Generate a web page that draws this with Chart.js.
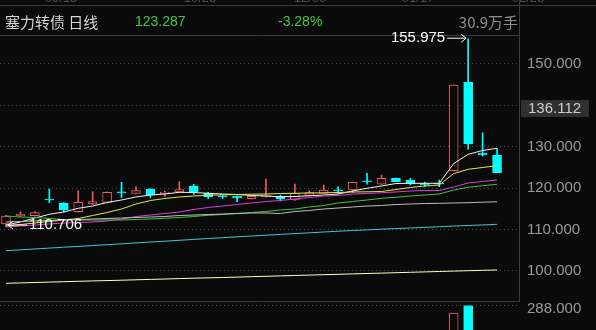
<!DOCTYPE html>
<html>
<head>
<meta charset="utf-8">
<script src="https://cdn.jsdelivr.net/npm/chart.js@4.4.0/dist/chart.umd.min.js"></script>
<style>
html, body { margin: 0; padding: 0; background: #0a0a0a; overflow: hidden; }
#wrap { position: relative; width: 596px; height: 330px; }
</style>
</head>
<body>
<div id="wrap"><canvas id="kline" width="596" height="330"></canvas></div>
<script>
// daily candles, oldest first
const opens  = [111.33, 113.25, 113.33, 117.2, 116.39, 114.29, 116.14, 116.55, 118.9, 118.72,
                119.76, 118.63, 119.04, 120.48, 118.72, 118.14, 118.07, 117.42, 117.9, 118.0,
                117.1, 118.19, 118.72, 119.4, 119.52, 121.55, 120.9, 122.34, 121.93, 120.85,
                121.0, 124.17, 145.47, 128.36, 127.95];
const highs  = [113.4, 114.22, 114.3, 119.76, 116.5, 119.35, 119.11, 119.1, 121.37, 120.31,
                119.8, 119.28, 121.52, 120.9, 118.96, 118.2, 118.1, 118.05, 122.17, 118.31,
                120.96, 119.35, 120.72, 120.3, 121.4, 123.54, 123.13, 122.4, 122.34, 121.45,
                121.93, 144.82, 155.975, 133.3, 129.57];
const lows   = [110.706, 113.1, 113.2, 116.46, 114.22, 114.2, 116.0, 116.4, 117.66, 118.6,
                117.66, 118.0, 118.95, 118.48, 117.42, 117.42, 116.7, 117.35, 117.8, 116.87,
                117.0, 118.1, 118.65, 118.72, 118.96, 120.9, 120.85, 121.5, 120.72, 120.3,
                120.3, 124.1, 129.33, 127.7, 123.7];
const closes = [113.25, 113.73, 114.05, 117.1, 114.7, 116.55, 116.7, 118.96, 118.85, 119.35,
                118.31, 119.04, 119.6, 119.04, 117.9, 117.83, 117.59, 118.0, 118.31, 117.35,
                118.72, 118.87, 119.52, 119.3, 121.37, 121.5, 122.34, 121.52, 120.96, 120.8,
                120.96, 144.82, 130.6, 127.95, 123.7];
const volumes = [42, 38, 35, 60, 48, 55, 40, 52, 46, 39,
                 44, 30, 41, 45, 36, 28, 33, 27, 49, 31,
                 43, 29, 37, 34, 50, 58, 47, 40, 36, 32,
                 30, 265, 288, 150, 110];

// moving averages
const ma5   = [111.08, 111.81, 112.77, 113.66, 114.22, 115.11, 115.66, 116.51, 117.11, 117.83,
               118.31, 118.55, 118.96, 118.92, 118.72, 118.55, 118.43, 118.19, 118.07, 117.90,
               117.95, 118.14, 118.31, 118.55, 119.28, 119.93, 120.48, 121.08, 121.13, 121.13,
               121.13, 125.90, 128.12, 129.04, 129.57];
const ma10  = [110.84, 111.20, 111.57, 111.93, 112.29, 112.65, 113.37, 114.10, 114.94, 116.14,
               116.99, 117.47, 117.83, 118.07, 118.24, 118.36, 118.43, 118.51, 118.55, 118.67,
               118.72, 118.80, 118.84, 118.92, 119.04, 119.08, 119.16, 119.64, 120.12, 120.48,
               120.72, 123.49, 124.51, 124.94, 125.37];
const ma20  = [110.60, 110.84, 111.08, 111.33, 111.57, 111.69, 111.81, 112.05, 112.53, 113.13,
               113.49, 113.86, 114.22, 114.82, 115.30, 115.66, 116.02, 116.39, 116.75, 116.99,
               117.35, 117.71, 118.07, 118.19, 118.55, 118.67, 118.87, 119.04, 119.28, 119.40,
               119.40, 120.24, 121.20, 121.57, 121.93];
const ma30  = [113.25, 113.01, 112.89, 112.65, 112.41, 112.29, 112.29, 112.29, 112.29, 112.41,
               112.53, 112.70, 112.89, 113.13, 113.42, 113.61, 113.86, 114.10, 114.34, 114.70,
               114.94, 115.42, 115.78, 116.39, 116.75, 117.11, 117.52, 117.76, 118.07, 118.31,
               118.55, 119.52, 120.17, 120.55, 120.89];
const ma60  = [111.81, 111.93, 112.05, 112.17, 112.29, 112.41, 112.53, 112.65, 112.77, 112.89,
               113.01, 113.13, 113.37, 113.49, 113.61, 113.73, 113.86, 113.98, 113.98, 113.86,
               114.34, 114.58, 114.94, 115.18, 115.42, 115.66, 115.78, 116.02, 116.14, 116.27,
               116.31, 116.39, 116.46, 116.58, 116.67];
const ma120 = [104.89, 105.10, 105.31, 105.52, 105.73, 105.93, 106.13, 106.34, 106.55, 106.77,
               106.98, 107.18, 107.40, 107.61, 107.83, 108.02, 108.24, 108.43, 108.63, 108.82,
               109.01, 109.20, 109.40, 109.59, 109.76, 109.90, 110.07, 110.22, 110.36, 110.51,
               110.67, 110.82, 110.96, 111.11, 111.25];
const ma250 = [97.04, 97.13, 97.23, 97.33, 97.42, 97.52, 97.61, 97.69, 97.78, 97.88,
               97.98, 98.07, 98.17, 98.27, 98.34, 98.43, 98.53, 98.63, 98.72, 98.82,
               98.92, 99.01, 99.11, 99.20, 99.30, 99.40, 99.49, 99.59, 99.69, 99.78,
               99.88, 99.98, 100.07, 100.17, 100.24];

const priceTicks = [100, 110, 120, 130, 140, 150];
const volTick = 288;
const title = '塞力转债 日线';
const lastPrice = '123.287';
const changePct = '-3.28%';
const volText = '30.9万手';
const markPrice = 136.112;
const topDates = ['09/13', '10/25', '12/06', '01/17', '02/28'];

const BG = '#0a0a0a';
const RED = '#ec5c5c';
const CYAN = '#00ffff';
const NUM_FONT = '"Liberation Sans", Arial, sans-serif';

const isUp = i => closes[i] >= opens[i];
const idx = opens.map((_, i) => i);

function maLine(data, color) {
    return {
        type: 'line',
        data: data.map((v, i) => ({ x: i, y: v })),
        borderColor: color,
        borderWidth: 1,
        pointRadius: 0,
        tension: 0,
        order: 0
    };
}

// headers, separators and price marks
const decor = {
    id: 'decor',
    afterDraw(chart) {
        const ctx = chart.ctx;
        const xs = chart.scales.x, ys = chart.scales.y, yv = chart.scales.yv;
        ctx.save();

        // clipped date labels of the panel above
        ctx.fillStyle = '#505050';
        ctx.font = '13px ' + NUM_FONT;
        ctx.textAlign = 'center';
        ctx.textBaseline = 'alphabetic';
        [61, 200, 310, 418, 528].forEach((x, k) => ctx.fillText(topDates[k], x, 2));

        // frame lines
        ctx.strokeStyle = '#3c3c3c';
        ctx.lineWidth = 1;
        ctx.beginPath();
        ctx.moveTo(0, 5.5); ctx.lineTo(596, 5.5);
        ctx.moveTo(0, 35.5); ctx.lineTo(519, 35.5);
        ctx.moveTo(0, 301.5); ctx.lineTo(519, 301.5);
        ctx.moveTo(519.5, 0); ctx.lineTo(519.5, 302);
        ctx.stroke();

        // header
        ctx.textBaseline = 'middle';
        ctx.textAlign = 'left';
        ctx.fillStyle = '#d6d6d6';
        ctx.font = '15px "Noto Sans CJK SC", sans-serif';
        ctx.fillText(title, 5, 22);
        ctx.fillStyle = '#48c848';
        ctx.font = '14px ' + NUM_FONT;
        ctx.fillText(lastPrice, 135, 22);
        ctx.fillText(changePct, 278, 22);
        ctx.fillStyle = '#8e8e8e';
        ctx.textAlign = 'right';
        ctx.font = '15px "Noto Sans CJK SC", sans-serif';
        ctx.fillText(volText, 518, 22);

        // highest / lowest marks
        let hi = 0, lo = 0;
        highs.forEach((v, i) => { if (v > highs[hi]) hi = i; });
        lows.forEach((v, i) => { if (v < lows[lo]) lo = i; });
        ctx.fillStyle = '#ffffff';
        ctx.strokeStyle = '#ffffff';
        ctx.font = '15px ' + NUM_FONT;
        let hx = xs.getPixelForValue(hi), hy = ys.getPixelForValue(highs[hi]) - 1;
        ctx.textAlign = 'right';
        ctx.fillText(highs[hi].toFixed(3), hx - 23, hy);
        ctx.beginPath();
        ctx.moveTo(hx - 21, hy + 0.5); ctx.lineTo(hx - 2, hy + 0.5);
        ctx.moveTo(hx - 7, hy - 3.5); ctx.lineTo(hx - 2, hy + 0.5); ctx.lineTo(hx - 7, hy + 4.5);
        ctx.stroke();
        let lx = xs.getPixelForValue(lo), ly = ys.getPixelForValue(lows[lo]) - 2;
        ctx.textAlign = 'left';
        ctx.fillText(lows[lo].toFixed(3), lx + 23, ly);
        ctx.beginPath();
        ctx.moveTo(lx + 2, ly + 0.5); ctx.lineTo(lx + 21, ly + 0.5);
        ctx.moveTo(lx + 7, ly - 3.5); ctx.lineTo(lx + 2, ly + 0.5); ctx.lineTo(lx + 7, ly + 4.5);
        ctx.stroke();

        // marker box on the price axis
        const by = ys.getPixelForValue(139.15);
        ctx.fillStyle = '#303030';
        ctx.fillRect(521, by - 8.5, 68, 17);
        ctx.fillStyle = '#cfcfcf';
        ctx.textAlign = 'left';
        ctx.font = '15px ' + NUM_FONT;
        ctx.fillText(markPrice.toFixed(3), 528, by);

        // volume panel top tick
        const vy = Math.round(yv.getPixelForValue(volTick)) - 0.5;
        ctx.strokeStyle = '#555555';
        ctx.setLineDash([1, 3]);
        ctx.beginPath();
        ctx.moveTo(0, vy); ctx.lineTo(519, vy);
        ctx.stroke();
        ctx.setLineDash([]);
        ctx.fillStyle = '#9a9a9a';
        ctx.fillText(volTick.toFixed(3), 527, vy + 3);

        ctx.restore();
    }
};

new Chart(document.getElementById('kline'), {
    type: 'bar',
    data: {
        datasets: [
            maLine(ma250, '#ffffbe'),
            maLine(ma120, '#44c6da'),
            maLine(ma60, '#bdbdbd'),
            maLine(ma30, '#3ec43e'),
            maLine(ma20, '#dc3edc'),
            maLine(ma10, '#e8e84c'),
            maLine(ma5, '#f4f4f4'),
            {
                // candle bodies
                data: idx.map(i => ({ x: i, y: [opens[i], closes[i]] })),
                backgroundColor: c => isUp(c.dataIndex) ? BG : CYAN,
                borderColor: c => isUp(c.dataIndex) ? RED : CYAN,
                borderWidth: 1,
                borderSkipped: false,
                barThickness: 9,
                minBarLength: 1,
                grouped: false,
                order: 1
            },
            {
                // wicks
                data: idx.map(i => ({ x: i, y: [lows[i], highs[i]] })),
                backgroundColor: c => isUp(c.dataIndex) ? RED : CYAN,
                borderWidth: 0,
                barThickness: 1,
                grouped: false,
                order: 2
            },
            {
                // volume
                yAxisID: 'yv',
                data: idx.map(i => ({ x: i, y: volumes[i] })),
                backgroundColor: c => isUp(c.dataIndex) ? BG : CYAN,
                borderColor: c => isUp(c.dataIndex) ? RED : CYAN,
                borderWidth: 1,
                borderSkipped: false,
                barThickness: 9,
                grouped: false,
                order: 1
            }
        ]
    },
    options: {
        responsive: false,
        animation: false,
        layout: { padding: { top: 36, left: 0, bottom: 0, right: 0 } },
        plugins: { legend: { display: false }, tooltip: { enabled: false } },
        scales: {
            x: { type: 'linear', display: false, offset: false, min: -0.415, max: 35.52 },
            y: {
                position: 'right',
                min: 85.783,
                max: 156.627,
                afterFit: s => { s.width = 77; s.paddingTop = 0; s.paddingBottom = 0; },
                afterBuildTicks: s => { s.ticks = priceTicks.map(v => ({ value: v })); },
                grid: { color: '#4a4a4a', drawTicks: false, lineWidth: 1 },
                border: { display: false, dash: [1, 3] },
                ticks: {
                    color: '#9a9a9a',
                    padding: 8,
                    autoSkip: false,
                    font: { family: NUM_FONT, size: 15 },
                    callback: v => v === 140 ? '' : v.toFixed(3)
                }
            },
            yv: { display: false, min: 213, max: 1114 }
        }
    },
    plugins: [decor]
});
</script>
</body>
</html>
